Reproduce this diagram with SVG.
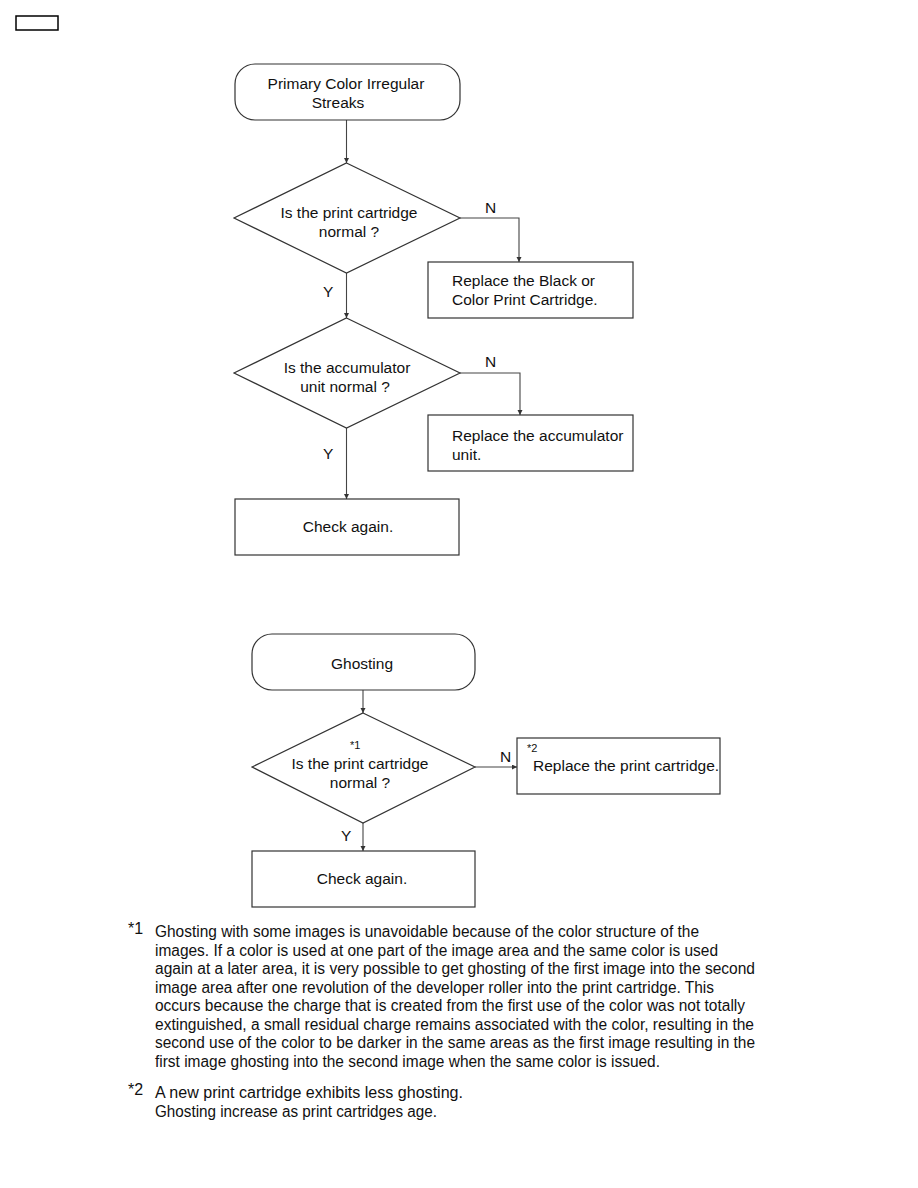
<svg xmlns="http://www.w3.org/2000/svg" width="918" height="1188" viewBox="0 0 918 1188">
<style>
.s{fill:#fff;stroke:#333;stroke-width:1.2}
.c{fill:none;stroke:#444;stroke-width:1.1}
.t{font-family:"Liberation Sans",Arial,sans-serif;font-size:15.5px;fill:#111}
.m{text-anchor:middle}
.sm{font-family:"Liberation Sans",Arial,sans-serif;font-size:11px;fill:#111}
.f{font-family:"Liberation Sans",Arial,sans-serif;font-size:16px;fill:#111}
</style>
<defs>
<marker id="ah" markerUnits="userSpaceOnUse" markerWidth="6" markerHeight="6" refX="5" refY="2.5" orient="auto">
<path d="M0,0 L5,2.5 L0,5 Z" fill="#333"/>
</marker>
</defs>
<rect x="16" y="16" width="42" height="14" fill="none" stroke="#000" stroke-width="1.5"/>

<g id="connectors">
<path class="c" d="M346.5,120 V163" marker-end="url(#ah)"/>
<path class="c" d="M460,218 H519 V262" marker-end="url(#ah)"/>
<path class="c" d="M346.5,273 V318" marker-end="url(#ah)"/>
<path class="c" d="M460,373 H520 V415" marker-end="url(#ah)"/>
<path class="c" d="M346.5,428 V499" marker-end="url(#ah)"/>
<path class="c" d="M363,690 V713" marker-end="url(#ah)"/>
<path class="c" d="M475,767 H517" marker-end="url(#ah)"/>
<path class="c" d="M363,823 V851" marker-end="url(#ah)"/>
<text class="t" x="485" y="213">N</text>
<text class="t" x="323" y="297">Y</text>
<text class="t" x="485" y="367">N</text>
<text class="t" x="323" y="459">Y</text>
<text class="t" x="500" y="762">N</text>
<text class="t" x="341" y="841">Y</text>
</g>

<g id="start1">
<rect class="s" x="235" y="64" width="225" height="56" rx="20" ry="20"/>
<text class="t m" x="346" y="89">Primary Color Irregular</text>
<text class="t m" x="338" y="108">Streaks</text>
</g>
<g id="dec1">
<polygon class="s" points="346.5,163 460,218 346.5,273 234,218"/>
<text class="t m" x="349" y="218">Is the print cartridge</text>
<text class="t m" x="349" y="237">normal ?</text>
</g>
<g id="box1">
<rect class="s" x="428" y="262" width="205" height="56"/>
<text class="t" x="452" y="286">Replace the Black or</text>
<text class="t" x="452" y="305">Color Print Cartridge.</text>
</g>
<g id="dec2">
<polygon class="s" points="346.5,318 460,373 346.5,428 234,373"/>
<text class="t m" x="347" y="373">Is the accumulator</text>
<text class="t m" x="345" y="392">unit normal ?</text>
</g>
<g id="box2">
<rect class="s" x="428" y="415" width="205" height="56"/>
<text class="t" x="452" y="441">Replace the accumulator</text>
<text class="t" x="452" y="460">unit.</text>
</g>
<g id="check1">
<rect class="s" x="235" y="499" width="224" height="56"/>
<text class="t m" x="348" y="532">Check again.</text>
</g>

<g id="start2">
<rect class="s" x="252" y="634" width="223" height="56" rx="20" ry="20"/>
<text class="t m" x="362" y="669">Ghosting</text>
</g>
<g id="dec3">
<polygon class="s" points="363,713 475,767 363,823 252,767"/>
<text class="sm" x="350" y="749">*1</text>
<text class="t m" x="360" y="769">Is the print cartridge</text>
<text class="t m" x="360" y="788">normal ?</text>
</g>
<g id="box3">
<rect class="s" x="517" y="738" width="203" height="56"/>
<text class="sm" x="527" y="752">*2</text>
<text class="t" x="533" y="771">Replace the print cartridge.</text>
</g>
<g id="check2">
<rect class="s" x="252" y="851" width="223" height="56"/>
<text class="t m" x="362" y="884">Check again.</text>
</g>

<g id="notes">
<text class="f" x="128" y="934" font-size="14">*1</text>
<text class="f" x="155" y="937" textLength="544" lengthAdjust="spacingAndGlyphs">Ghosting with some images is unavoidable because of the color structure of the</text>
<text class="f" x="155" y="955.5" textLength="563" lengthAdjust="spacingAndGlyphs">images. If a color is used at one part of the image area and the same color is used</text>
<text class="f" x="155" y="974" textLength="600" lengthAdjust="spacingAndGlyphs">again at a later area, it is very possible to get ghosting of the first image into the second</text>
<text class="f" x="155" y="992.5" textLength="559" lengthAdjust="spacingAndGlyphs">image area after one revolution of the developer roller into the print cartridge. This</text>
<text class="f" x="155" y="1011" textLength="590" lengthAdjust="spacingAndGlyphs">occurs because the charge that is created from the first use of the color was not totally</text>
<text class="f" x="155" y="1029.5" textLength="599" lengthAdjust="spacingAndGlyphs">extinguished, a small residual charge remains associated with the color, resulting in the</text>
<text class="f" x="155" y="1048" textLength="600" lengthAdjust="spacingAndGlyphs">second use of the color to be darker in the same areas as the first image resulting in the</text>
<text class="f" x="155" y="1066.5" textLength="505" lengthAdjust="spacingAndGlyphs">first image ghosting into the second image when the same color is issued.</text>
<text class="f" x="128" y="1095" font-size="14">*2</text>
<text class="f" x="155" y="1098" textLength="308" lengthAdjust="spacingAndGlyphs">A new print cartridge exhibits less ghosting.</text>
<text class="f" x="155" y="1116.5" textLength="282" lengthAdjust="spacingAndGlyphs">Ghosting increase as print cartridges age.</text>
</g>
</svg>
